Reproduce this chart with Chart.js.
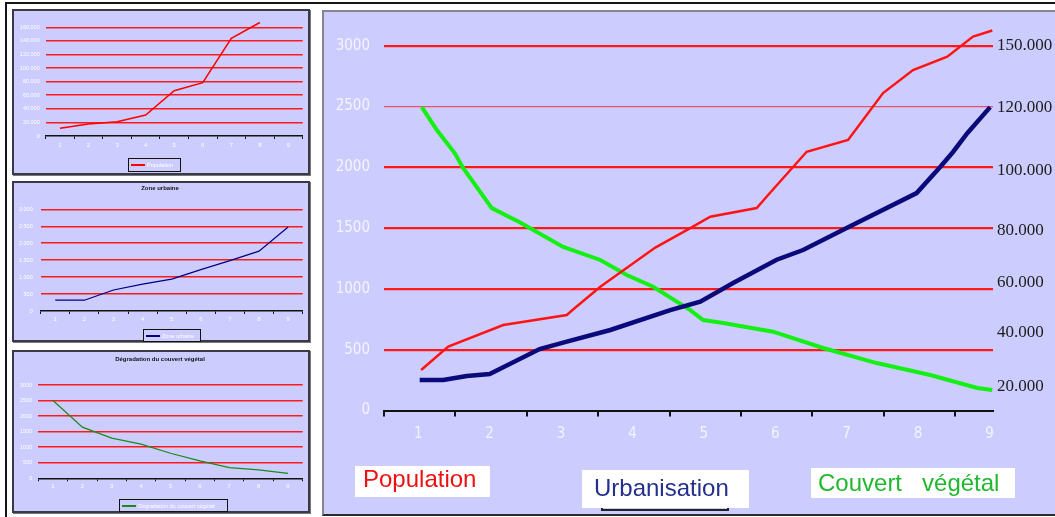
<!DOCTYPE html>
<html><head><meta charset="utf-8">
<script src="https://cdn.jsdelivr.net/npm/chart.js@4.4.1/dist/chart.umd.min.js"></script>
<style>
html,body{margin:0;padding:0;background:#fff;}
body{width:1055px;height:517px;position:relative;overflow:hidden;font-family:'Liberation Sans',Arial,sans-serif;}
.abs{position:absolute;box-sizing:border-box;}
.panel{position:absolute;background:#ccccff;box-sizing:border-box;border:2px solid #3a3a46;box-shadow:1px 1px 0 #777;}
canvas{position:absolute;}
.sleg{position:absolute;box-sizing:border-box;border:1px solid #111;background:#ccccff;font-size:5.5px;color:#fff;white-space:nowrap;line-height:12px;}
.sleg i{position:absolute;left:2px;top:5px;width:14px;height:2px;}
.sleg span{position:absolute;left:18px;top:0;}
.stitle{position:absolute;font-size:6px;font-weight:bold;color:#111;white-space:nowrap;text-align:center;}
.bleg{position:absolute;box-sizing:border-box;background:#fff;font-size:24px;line-height:26px;white-space:pre;}
</style></head><body>

<div class="abs" style="left:5px;top:2px;width:1050px;height:2px;background:#151515"></div>
<div class="abs" style="left:5px;top:2px;width:2px;height:515px;background:#151515"></div>

<div class="panel" style="left:12px;top:9px;width:298px;height:166px"></div>
<div class="panel" style="left:12px;top:181px;width:298px;height:161px"></div>
<div class="panel" style="left:12px;top:350px;width:298px;height:163px"></div>
<div class="abs" style="left:322px;top:10px;width:740px;height:506px;background:#ccccff;border-left:2px solid #858592;border-top:2px solid #858592;border-bottom:2px solid #2a2a2a"></div>

<canvas id="c1" width="294" height="162" style="left:14px;top:11px"></canvas>
<canvas id="c2" width="294" height="157" style="left:14px;top:183px"></canvas>
<canvas id="c3" width="294" height="159" style="left:14px;top:352px"></canvas>
<canvas id="big" width="732" height="503" style="left:323px;top:11px"></canvas>

<div class="stitle" style="left:130px;top:185px;width:60px">Zone urbaine</div>
<div class="stitle" style="left:110px;top:356px;width:100px">Dégradation du couvert végétal</div>

<div class="sleg" style="left:128px;top:158px;width:53px;height:14px"><i style="background:#ff0000"></i><span>Population</span></div>
<div class="sleg" style="left:143px;top:329px;width:58px;height:13px"><i style="background:#000080"></i><span>Zone urbaine</span></div>
<div class="sleg" style="left:119px;top:499px;width:109px;height:13px"><i style="background:#1a8a1a"></i><span>Dégradation du couvert végétal</span></div>

<div class="bleg" style="left:355px;top:466px;width:135px;height:31px;padding:0 0 0 8px;color:#ee1111">Population</div>
<div class="abs" style="left:601px;top:504px;width:128px;height:7px;border:2px solid #222;border-top:none"></div>
<div class="bleg" style="left:582px;top:470px;width:167px;height:38px;padding:5px 0 0 12px;color:#24308c">Urbanisation</div>
<div class="bleg" style="left:811px;top:468px;width:204px;height:30px;padding:2px 0 0 7px;color:#22b82e">Couvert   végétal</div>

<script>
// ---------- data ----------
const categories = ['1','2','3','4','5','6','7','8','9'];

// big chart (x in category units, y in left-axis units)
const leftTicks = [0, 500, 1000, 1500, 2000, 2500, 3000];
const rightTickValues = [200, 640, 1055, 1480, 1975, 2495, 3000];
const rightTickLabels = ['20.000', '40.000', '60.000', '80.000', '100.000', '120.000', '150.000'];
const tickMarkPositions = [0.52, 1.52, 2.52, 3.52, 4.52, 5.52, 6.52, 7.52, 8.52];

const popX = [1.04, 1.42, 2.19, 3.08, 3.16, 3.55, 4.32, 4.81, 5.09, 5.74, 5.90, 6.44, 7.02, 7.51, 7.93, 8.41, 8.77, 9.04];
const popY = [333, 525, 703, 785, 826, 1018, 1340, 1500, 1594, 1665, 1772, 2128, 2225, 2610, 2800, 2910, 3075, 3125];

const urbX = [1.02, 1.35, 1.68, 2.00, 2.70, 3.08, 3.69, 4.53, 4.95, 5.41, 6.02, 6.39, 7.00, 7.98, 8.31, 8.49, 8.69, 9.01];
const urbY = [251, 251, 284, 300, 505, 566, 662, 826, 895, 1048, 1240, 1320, 1500, 1788, 2003, 2126, 2280, 2495];

const vegX = [1.05, 1.26, 1.51, 1.63, 2.03, 2.42, 3.03, 3.55, 3.92, 4.29, 4.81, 4.99, 5.27, 5.97, 6.67, 7.42, 8.17, 8.83, 9.04];
const vegY = [2495, 2306, 2117, 1993, 1664, 1549, 1345, 1238, 1114, 1018, 826, 744, 720, 648, 514, 390, 292, 185, 169];

// small charts
const popSmall = [11300, 17700, 21000, 30900, 66700, 78500, 143800, 167000, null];
const popSmallTicks = [0, 20000, 40000, 60000, 80000, 100000, 120000, 140000, 160000];
const popSmallLabels = ['0', '20.000', '40.000', '60.000', '80.000', '100.000', '120.000', '140.000', '160.000'];

const urbSmall = [318, 318, 620, 794, 940, 1220, 1488, 1766, 2480];
const urbSmallTicks = [0, 500, 1000, 1500, 2000, 2500, 3000];
const urbSmallLabels = ['0', '500', '1.000', '1.500', '2.000', '2.500', '3.000'];

const vegSmall = [2503, 1645, 1290, 1097, 806, 558, 342, 268, 161];
const vegSmallTicks = [0, 500, 1000, 1500, 2000, 2500, 3000];
const vegSmallLabels = ['0', '500', '1000', '1500', '2000', '2500', '3000'];

// ---------- helpers ----------
const NARROW = "'Liberation Sans Narrow','DejaVu Sans Condensed','Liberation Sans',Arial,sans-serif";
const T = 'rgba(0,0,0,0)';
const pts = (xs, ys) => xs.map((x, i) => ({x: x, y: ys[i]}));
const isCat = v => categories.indexOf(String(v)) >= 0 && Number.isInteger(v);

// ---------- big chart ----------
new Chart(document.getElementById('big'), {
  type: 'line',
  data: {
    datasets: [
      {label: 'Population', data: pts(popX, popY), borderColor: '#ff1414', borderWidth: 2.5, pointRadius: 0, tension: 0, clip: false},
      {label: 'Urbanisation', data: pts(urbX, urbY), borderColor: '#0a0a7a', borderWidth: 4.5, pointRadius: 0, tension: 0, clip: false},
      {label: 'Couvert végétal', data: pts(vegX, vegY), borderColor: '#14f014', borderWidth: 4, pointRadius: 0, tension: 0, clip: false}
    ]
  },
  options: {
    responsive: false, animation: false, devicePixelRatio: 1,
    layout: {padding: {top: 34.7, left: 0, right: 0, bottom: 0}},
    plugins: {legend: {display: false}, tooltip: {enabled: false}},
    scales: {
      x: {
        type: 'linear', min: 0.52, max: 9.05,
        afterBuildTicks: s => {
          const vals = categories.map(c => Number(c)).concat(tickMarkPositions).sort((a, b) => a - b);
          s.ticks = vals.map(v => ({value: v}));
        },
        afterFit: s => { s.height = 103.5; },
        ticks: {autoSkip: false, maxRotation: 0, color: '#f4f4ff', padding: 9,
          font: {family: NARROW, size: 15},
          callback: v => isCat(v) ? categories[v - 1] : ''},
        grid: {drawOnChartArea: false, drawTicks: true, tickLength: 6,
          color: c => (c.tick && isCat(c.tick.value)) ? T : '#111',
          tickColor: c => (c.tick && isCat(c.tick.value)) ? T : '#111',
          lineWidth: 2, tickWidth: 2},
        border: {display: true, color: '#111', width: 2}
      },
      y: {
        type: 'linear', position: 'left', min: 0, max: 3000,
        afterBuildTicks: s => { s.ticks = leftTicks.map(v => ({value: v})); },
        afterFit: s => { s.width = 61; },
        ticks: {color: '#f4f4ff', padding: 14, font: {family: NARROW, size: 15}, callback: v => String(v)},
        grid: {drawTicks: false,
          color: c => c.tick.value === 0 ? T : (c.tick.value === 2500 ? '#e8506e' : '#ff1a1a'),
          lineWidth: c => c.tick.value === 2500 ? 1.2 : 2.2},
        border: {display: false}
      },
      y2: {
        type: 'linear', position: 'right', min: 0, max: 3000,
        afterBuildTicks: s => { s.ticks = rightTickValues.map(v => ({value: v})); },
        afterFit: s => { s.width = 62; },
        ticks: {color: '#1c1c1c', padding: 4, font: {family: "'Liberation Serif','DejaVu Serif',serif", size: 17},
          callback: (v, i) => rightTickLabels[i]},
        grid: {display: false, drawTicks: false},
        border: {display: false}
      }
    }
  }
});

// ---------- small charts ----------
function small(id, data, color, width, tks, lbls, max, box) {
  new Chart(document.getElementById(id), {
    type: 'line',
    data: {labels: categories, datasets: [{data: data, borderColor: color, borderWidth: width, pointRadius: 0, tension: 0, clip: false, spanGaps: false}]},
    options: {
      responsive: false, animation: false, devicePixelRatio: 1,
      layout: {padding: {top: box.top, right: box.right, left: 0, bottom: 0}},
      plugins: {legend: {display: false}, tooltip: {enabled: false}},
      scales: {
        x: {
          type: 'category', offset: true,
          afterFit: s => { s.height = box.xh; },
          ticks: {color: '#ffffff', padding: box.xpad, maxRotation: 0, autoSkip: false, font: {size: 6, family: "'Liberation Sans',Arial,sans-serif"}},
          grid: {offset: true, drawOnChartArea: false, tickLength: 3, color: '#111', lineWidth: 1},
          border: {display: true, color: '#111', width: 1.5}
        },
        y: {
          min: 0, max: max,
          afterBuildTicks: s => { s.ticks = tks.map(v => ({value: v})); },
          afterFit: s => { s.width = box.yw; },
          ticks: {color: '#ffffff', padding: box.ypad, font: {size: 5.5, family: "'Liberation Sans',Arial,sans-serif"},
            callback: (v, i) => lbls[i]},
          grid: {drawTicks: false, color: c => c.tick.value === 0 ? T : '#ff1a1a', lineWidth: 1.5},
          border: {display: false}
        }
      }
    }
  });
}
small('c1', popSmall, '#ff0000', 1.6, popSmallTicks, popSmallLabels, 160000, {top: 16.3, right: 5.3, xh: 37, yw: 31.7, xpad: 3, ypad: 6});
small('c2', urbSmall, '#000080', 1.2, urbSmallTicks, urbSmallLabels, 3000, {top: 26.3, right: 5.3, xh: 29, yw: 26.7, xpad: 2, ypad: 8});
small('c3', vegSmall, '#1a8a1a', 1.2, vegSmallTicks, vegSmallLabels, 3000, {top: 33, right: 5.3, xh: 32.7, yw: 24.3, xpad: 1, ypad: 6});
</script>
</body></html>
